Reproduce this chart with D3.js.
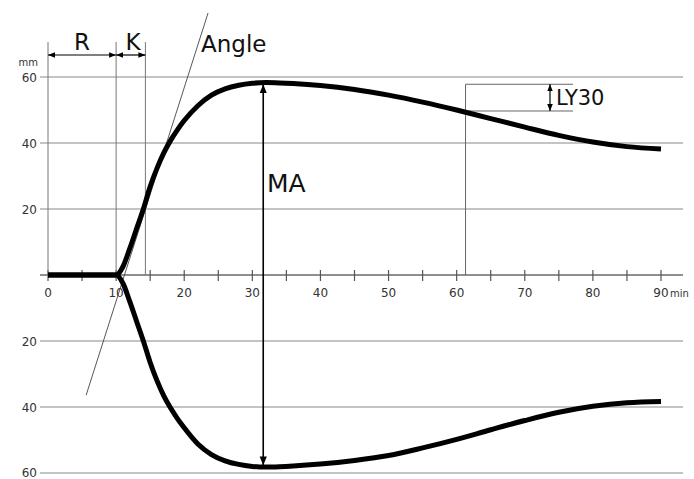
<!DOCTYPE html>
<html>
<head>
<meta charset="utf-8">
<script src="https://cdn.jsdelivr.net/npm/d3@7"></script>
<style>
  body { margin: 0; background: #fff; }
  svg { display: block; font-family: "DejaVu Sans", Arial, sans-serif; }
</style>
</head>
<body>
<div id="viz"></div>
<script>
const LAYOUT = {
  width: 694,
  height: 479,
  x0: 48, x1: 661,
  yTop: 77, yBot: 473,
  gridLeft: 40, gridRight: 683
}

// time in minutes
const times = [0, 5, 10, 11, 12, 13, 14, 15, 16, 17, 18, 19, 20, 22, 24, 26, 28, 30, 32, 34, 36, 40, 45, 50, 55, 60, 65, 70, 75, 80, 85, 90];
// amplitude in mm, upper and lower trace
const upper = [0, 0, 0, 2.5, 8, 14, 20, 26.8, 32.3, 37, 40.8, 44, 46.8, 51.3, 54.5, 56.4, 57.5, 58.1, 58.3, 58.2, 58, 57.4, 56.2, 54.5, 52.4, 50, 47.4, 44.8, 42.3, 40.3, 38.9, 38.2];
const lower = [0, 0, 0, 2.5, 8, 14, 20, 26.5, 32, 36.6, 40.3, 43.5, 46.3, 51.2, 54.4, 56.3, 57.4, 58, 58.2, 58.1, 57.9, 57.3, 56.2, 54.7, 52.4, 49.8, 46.9, 44.1, 41.6, 39.8, 38.7, 38.3];

const xTicks = d3.range(0, 91, 5);
const xLabels = [0, 10, 20, 30, 40, 50, 60, 70, 80, 90];
const yGrid = [60, 40, 20, -20, -40, -60];

// annotation values (minutes / mm)
const r_time = 10;
const k_time = 14.3;
const ma_time = 31.6;
const ma_value = 58.1;
const ly30_time = 61.3;
const ly30_value = 50;
const angle_line = [[23.5, 79.4], [5.6, -36.4]];

const svg = d3.select("#viz").append("svg")
  .attr("width", LAYOUT.width)
  .attr("height", LAYOUT.height);

const x = d3.scaleLinear().domain([0, 90]).range([LAYOUT.x0, LAYOUT.x1]);
const y = d3.scaleLinear().domain([-60, 60]).range([LAYOUT.yBot, LAYOUT.yTop]);

const defs = svg.append("defs");
function arrow(id, size) {
  defs.append("marker")
    .attr("id", id)
    .attr("viewBox", "0 0 10 10")
    .attr("refX", 10).attr("refY", 5)
    .attr("markerWidth", size).attr("markerHeight", size)
    .attr("markerUnits", "userSpaceOnUse")
    .attr("orient", "auto-start-reverse")
    .append("path")
    .attr("d", "M0,1 L10,5 L0,9 Z")
    .attr("fill", "#000");
}
arrow("arr", 9);
arrow("arrS", 7);

// grid lines
svg.append("g").selectAll("line")
  .data(yGrid)
  .join("line")
  .attr("x1", LAYOUT.gridLeft).attr("x2", LAYOUT.gridRight)
  .attr("y1", d => y(d)).attr("y2", d => y(d))
  .attr("stroke", "#8a8a8a").attr("stroke-width", 1.2);

// y labels
svg.append("g").selectAll("text")
  .data(yGrid)
  .join("text")
  .attr("x", 37).attr("y", d => Math.min(y(d) + 5, 477))
  .attr("text-anchor", "end")
  .attr("font-size", 12)
  .attr("fill", "#333")
  .text(d => Math.abs(d));

svg.append("text")
  .attr("x", 38).attr("y", 66)
  .attr("text-anchor", "end")
  .attr("font-size", 10)
  .attr("fill", "#333")
  .text("mm");

// x axis
svg.append("line")
  .attr("x1", LAYOUT.gridLeft).attr("x2", LAYOUT.gridRight)
  .attr("y1", y(0)).attr("y2", y(0))
  .attr("stroke", "#6a6a6a").attr("stroke-width", 1.3);

svg.append("g").selectAll("line")
  .data(xTicks)
  .join("line")
  .attr("x1", d => x(d)).attr("x2", d => x(d))
  .attr("y1", y(0) - 5).attr("y2", y(0) + 6)
  .attr("stroke", "#555").attr("stroke-width", 1.2);

svg.append("g").selectAll("text")
  .data(xLabels)
  .join("text")
  .attr("x", d => x(d)).attr("y", y(0) + 22)
  .attr("text-anchor", "middle")
  .attr("font-size", 12)
  .attr("fill", "#333")
  .text(d => d);

svg.append("text")
  .attr("x", x(90) + 9).attr("y", y(0) + 22)
  .attr("font-size", 10)
  .attr("fill", "#333")
  .text("min");

// R / K marker lines
const markTop = 42;
svg.append("g").selectAll("line")
  .data([0, r_time, k_time])
  .join("line")
  .attr("x1", d => x(d)).attr("x2", d => x(d))
  .attr("y1", markTop).attr("y2", y(0))
  .attr("stroke", "#777").attr("stroke-width", 1);

svg.append("line")
  .attr("x1", x(0)).attr("x2", x(r_time))
  .attr("y1", 55).attr("y2", 55)
  .attr("stroke", "#000").attr("stroke-width", 1.2)
  .attr("marker-start", "url(#arrS)").attr("marker-end", "url(#arrS)");
svg.append("line")
  .attr("x1", x(r_time)).attr("x2", x(k_time))
  .attr("y1", 55).attr("y2", 55)
  .attr("stroke", "#000").attr("stroke-width", 1.2)
  .attr("marker-start", "url(#arrS)").attr("marker-end", "url(#arrS)");

// angle tangent
svg.append("line")
  .attr("x1", x(angle_line[0][0])).attr("y1", y(angle_line[0][1]))
  .attr("x2", x(angle_line[1][0])).attr("y2", y(angle_line[1][1]))
  .attr("stroke", "#444").attr("stroke-width", 0.9);

// LY30 lines
svg.append("line")
  .attr("x1", x(ly30_time)).attr("x2", x(ly30_time))
  .attr("y1", y(ma_value) + 1).attr("y2", y(0))
  .attr("stroke", "#666").attr("stroke-width", 1);
svg.append("g").selectAll("line")
  .data([ma_value - 0.3, ly30_value - 0.3])
  .join("line")
  .attr("x1", x(ly30_time)).attr("x2", 573)
  .attr("y1", d => y(d)).attr("y2", d => y(d))
  .attr("stroke", "#666").attr("stroke-width", 1);
svg.append("line")
  .attr("x1", 550).attr("x2", 550)
  .attr("y1", y(ma_value - 0.3)).attr("y2", y(ly30_value - 0.3))
  .attr("stroke", "#000").attr("stroke-width", 1.2)
  .attr("marker-start", "url(#arrS)").attr("marker-end", "url(#arrS)");

// traces
const line = d3.line()
  .x(d => x(d[0]))
  .y(d => y(d[1]))
  .curve(d3.curveMonotoneX);

svg.append("path")
  .datum(times.map((t, i) => [t, upper[i]]))
  .attr("d", line)
  .attr("fill", "none").attr("stroke", "#000").attr("stroke-width", 5)
  .attr("stroke-linejoin", "round");
svg.append("path")
  .datum(times.map((t, i) => [t, -lower[i]]))
  .attr("d", line)
  .attr("fill", "none").attr("stroke", "#000").attr("stroke-width", 5)
  .attr("stroke-linejoin", "round");

// MA arrow
svg.append("line")
  .attr("x1", x(ma_time)).attr("x2", x(ma_time))
  .attr("y1", y(ma_value) + 1).attr("y2", y(-ma_value + 0.4))
  .attr("stroke", "#000").attr("stroke-width", 1.6)
  .attr("marker-start", "url(#arr)").attr("marker-end", "url(#arr)");

// labels
const labels = [
  { t: "R", x: 82, y: 50, size: 23, anchor: "middle" },
  { t: "K", x: 133, y: 50, size: 23, anchor: "middle" },
  { t: "Angle", x: 201, y: 52, size: 23, anchor: "start" },
  { t: "MA", x: 267, y: 192, size: 25, anchor: "start" },
  { t: "LY30", x: 556, y: 105, size: 21, anchor: "start" }
];
svg.append("g").selectAll("text")
  .data(labels)
  .join("text")
  .attr("x", d => d.x).attr("y", d => d.y)
  .attr("text-anchor", d => d.anchor)
  .attr("font-size", d => d.size)
  .attr("fill", "#111")
  .text(d => d.t);
</script>
</body>
</html>
